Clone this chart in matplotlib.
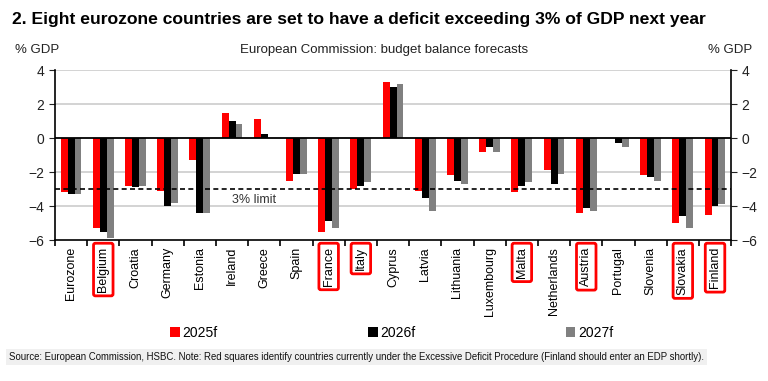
import matplotlib
matplotlib.use("Agg")
import matplotlib.pyplot as plt
import numpy as np
from matplotlib.patches import Patch

plt.rcParams["font.family"] = ["Liberation Sans", "DejaVu Sans"]

countries = ["Eurozone", "Belgium", "Croatia", "Germany", "Estonia", "Ireland",
             "Greece", "Spain", "France", "Italy", "Cyprus", "Latvia", "Lithuania",
             "Luxembourg", "Malta", "Netherlands", "Austria", "Portugal",
             "Slovenia", "Slovakia", "Finland"]
edp = ["Belgium", "France", "Italy", "Malta", "Austria", "Slovakia", "Finland"]

f2025 = [-3.2, -5.3, -2.8, -3.1, -1.3, 1.5, 1.1, -2.5, -5.5, -3.0, 3.3, -3.1, -2.2,
         -0.8, -3.2, -1.9, -4.4, 0.0, -2.2, -5.0, -4.5]
f2026 = [-3.3, -5.5, -2.9, -4.0, -4.4, 1.0, 0.25, -2.1, -4.9, -2.8, 3.0, -3.5, -2.5,
         -0.5, -2.8, -2.7, -4.1, -0.3, -2.3, -4.6, -4.0]
f2027 = [-3.3, -5.9, -2.8, -3.8, -4.4, 0.8, 0.0, -2.1, -5.3, -2.6, 3.2, -4.3, -2.7,
         -0.8, -2.6, -2.1, -4.3, -0.5, -2.5, -5.3, -3.9]
yticks = [4, 2, 0, -2, -4, -6]

series = [("2025f", f2025, "#ff0000"), ("2026f", f2026, "#000000"), ("2027f", f2027, "#808080")]

fig = plt.figure(figsize=(7.68, 3.81), dpi=100)
ax = fig.add_axes([0.0716, 0.37, 0.8804, 0.446])

x = np.arange(len(countries))
w = 0.215
for i, (label, vals, color) in enumerate(series):
    ax.bar(x + (i - 1) * w, vals, width=w, color=color, zorder=3)

ax.set_xlim(-0.5, len(countries) - 0.5)
ax.set_ylim(-6, 4)
ax.set_yticks(yticks)
for y in (4, 2, -2, -4):
    ax.axhline(y, color="#cccccc", lw=1.2, zorder=1)
ax.axhline(0, color="black", lw=1.3, zorder=4)
ax.axhline(-3, color="black", lw=1.2, ls=(0, (3, 2)), zorder=5)
ax.text(5.0, -3.3, "3% limit", fontsize=9, color="#333333", va="top", ha="left", zorder=6)

ax.spines["top"].set_visible(False)
for s in ("left", "right", "bottom"):
    ax.spines[s].set_linewidth(1.2)
ax.tick_params(axis="y", which="both", direction="out", length=4, labelsize=10,
               left=True, right=True, labelleft=True, labelright=True, colors="#222222")
ax.set_xticks(np.arange(len(countries) + 1) - 0.5, minor=False)
ax.set_xticklabels([])
ax.set_xticks(x, minor=True)
ax.set_xticklabels(countries, minor=True, rotation=90, fontsize=9)
ax.tick_params(axis="x", which="major", direction="out", length=4, width=1.2)
ax.tick_params(axis="x", which="minor", length=0, pad=5)
for lbl in ax.get_xticklabels(minor=True):
    if lbl.get_text() in edp:
        lbl.set_bbox(dict(facecolor="none", edgecolor="#ff0000", linewidth=2,
                          boxstyle="round,pad=0.3,rounding_size=0.15"))

fig.text(0.015, 0.948, "2. Eight eurozone countries are set to have a deficit exceeding 3% of GDP next year",
         fontsize=12.6, fontweight="bold", va="center")
fig.text(0.02, 0.87, "% GDP", fontsize=9.5, color="#222222", va="center")
fig.text(0.98, 0.87, "% GDP", fontsize=9.5, color="#222222", va="center", ha="right")
fig.text(0.50, 0.87, "European Commission: budget balance forecasts", fontsize=9.5,
         color="#222222", va="center", ha="center")

handles = [Patch(facecolor=c, label=l) for l, _, c in series]
fig.legend(handles=handles, loc="center", bbox_to_anchor=(0.51, 0.126), ncol=3,
           frameon=False, fontsize=10, handlelength=0.7, handleheight=0.7,
           handletextpad=0.2, columnspacing=10.8)

fig.text(0.012, 0.063,
         "Source: European Commission, HSBC. Note: Red squares identify countries currently under the Excessive Deficit Procedure (Finland should enter an EDP shortly).",
         fontsize=6.9, color="#111111", va="center",
         bbox=dict(facecolor="#f0f0f0", edgecolor="none", pad=2))

fig.savefig("out.png", dpi=100)
